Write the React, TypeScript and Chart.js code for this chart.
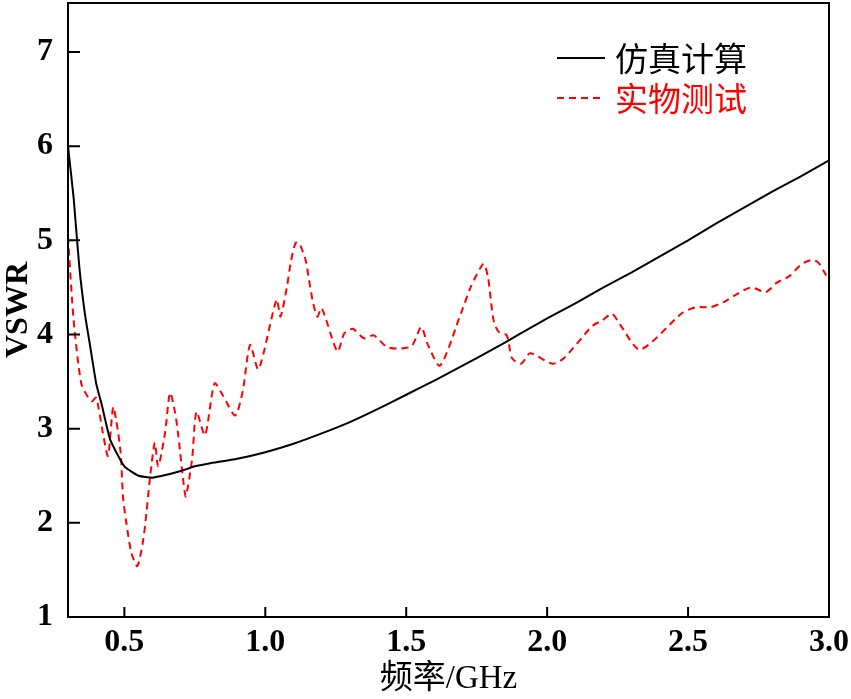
import React, { useEffect, useRef } from "react";
import { Chart, registerables } from "chart.js";

Chart.register(...registerables);

// Simulated VSWR (仿真计算)
const simFreq = [0.3, 0.32, 0.34, 0.36, 0.38, 0.4, 0.42, 0.45, 0.5, 0.55, 0.6, 0.65, 0.7, 0.75, 0.8, 0.9, 1.0, 1.1, 1.2, 1.3, 1.4, 1.5, 1.6, 1.7, 1.8, 1.9, 2.0, 2.1, 2.2, 2.3, 2.4, 2.5, 2.6, 2.7, 2.8, 2.9, 3.0];
const simVswr = [6.0, 5.45, 4.72, 4.22, 3.85, 3.48, 3.25, 2.88, 2.6, 2.5, 2.48, 2.51, 2.55, 2.6, 2.63, 2.68, 2.75, 2.84, 2.95, 3.07, 3.21, 3.36, 3.51, 3.67, 3.83, 4.0, 4.17, 4.33, 4.5, 4.66, 4.83, 5.0, 5.18, 5.35, 5.52, 5.68, 5.85];

// Measured VSWR (实物测试)
const measFreq = [0.3, 0.32, 0.347, 0.37, 0.385, 0.4, 0.424, 0.442, 0.46, 0.471, 0.487, 0.495, 0.507, 0.525, 0.546, 0.567, 0.578, 0.59, 0.608, 0.62, 0.644, 0.662, 0.68, 0.692, 0.71, 0.718, 0.74, 0.756, 0.786, 0.82, 0.85, 0.893, 0.92, 0.946, 0.976, 1.04, 1.054, 1.077, 1.09, 1.107, 1.12, 1.143, 1.155, 1.17, 1.185, 1.2, 1.256, 1.28, 1.31, 1.35, 1.385, 1.43, 1.47, 1.52, 1.553, 1.577, 1.62, 1.696, 1.73, 1.774, 1.79, 1.8, 1.81, 1.827, 1.857, 1.875, 1.908, 1.94, 2.018, 2.06, 2.16, 2.196, 2.23, 2.26, 2.33, 2.48, 2.53, 2.58, 2.63, 2.68, 2.725, 2.775, 2.815, 2.86, 2.9, 2.935, 2.96, 2.98, 3.0];
const measVswr = [5.04, 4.15, 3.48, 3.34, 3.29, 3.33, 2.95, 2.71, 3.23, 3.09, 2.74, 2.28, 2.0, 1.68, 1.54, 1.82, 2.1, 2.45, 2.85, 2.6, 2.95, 3.38, 3.17, 2.91, 2.42, 2.28, 2.67, 3.18, 2.93, 3.48, 3.35, 3.14, 3.4, 3.89, 3.63, 4.37, 4.19, 4.51, 4.76, 4.97, 4.97, 4.79, 4.58, 4.33, 4.19, 4.28, 3.82, 4.01, 4.06, 3.96, 3.99, 3.87, 3.85, 3.88, 4.08, 3.89, 3.67, 4.24, 4.51, 4.75, 4.61, 4.37, 4.15, 4.03, 3.99, 3.75, 3.69, 3.8, 3.69, 3.75, 4.09, 4.15, 4.22, 4.1, 3.84, 4.23, 4.29, 4.29, 4.35, 4.44, 4.5, 4.45, 4.55, 4.62, 4.74, 4.79, 4.77, 4.68, 4.57];

const xTicks = [0.5, 1.0, 1.5, 2.0, 2.5, 3.0];
const yTicks = [1, 2, 3, 4, 5, 6, 7];

const seriesLabels = ["仿真计算", "实物测试"];
const xTitle = "频率/GHz";
const yTitle = "VSWR";

const SERIF = "'Liberation Serif', 'Times New Roman', 'Noto Sans CJK SC', serif";
const CJK = "'Noto Sans CJK SC', sans-serif";

const noPad = (s: any) => {
  s.paddingTop = 0;
  s.paddingBottom = 0;
  s.paddingLeft = 0;
  s.paddingRight = 0;
};

export default function App() {
  const ref = useRef<HTMLCanvasElement | null>(null);

  useEffect(() => {
    if (!ref.current) return;

    const framePlugin = {
      id: "frameTicksLegend",
      afterDraw(chart: any) {
        const { ctx, chartArea, scales } = chart;
        const { left, right, top, bottom } = chartArea;
        ctx.save();
        ctx.strokeStyle = "#000";
        ctx.lineWidth = 2;
        ctx.strokeRect(left, top, right - left, bottom - top);
        ctx.beginPath();
        xTicks.forEach((v) => {
          const px = scales.x.getPixelForValue(v);
          ctx.moveTo(px, bottom);
          ctx.lineTo(px, bottom - 10);
        });
        yTicks.forEach((v) => {
          const py = scales.y.getPixelForValue(v);
          ctx.moveTo(left, py);
          ctx.lineTo(left + 12, py);
        });
        ctx.stroke();

        // legend
        const lx0 = 557, lx1 = 605, tx = 615;
        const rows = [
          { y: 58, color: "#000", dash: [] as number[], text: seriesLabels[0] },
          { y: 98, color: "#ff0000", dash: [7, 5], text: seriesLabels[1] },
        ];
        rows.forEach((r) => {
          ctx.beginPath();
          ctx.setLineDash(r.dash);
          ctx.strokeStyle = r.color;
          ctx.lineWidth = 2;
          ctx.moveTo(lx0, r.y);
          ctx.lineTo(lx1, r.y);
          ctx.stroke();
          ctx.setLineDash([]);
          ctx.fillStyle = r.color;
          ctx.font = `33px ${CJK}`;
          ctx.textAlign = "left";
          ctx.textBaseline = "middle";
          ctx.fillText(r.text, tx, r.y);
        });
        ctx.restore();
      },
    };

    const chart = new Chart(ref.current, {
      type: "line",
      data: {
        datasets: [
          {
            label: seriesLabels[0],
            data: simFreq.map((x, i) => ({ x, y: simVswr[i] })),
            borderColor: "#000",
            borderWidth: 2,
            pointRadius: 0,
            tension: 0.15,
            fill: false,
          },
          {
            label: seriesLabels[1],
            data: measFreq.map((x, i) => ({ x, y: measVswr[i] })),
            borderColor: "#ff0000",
            borderWidth: 2,
            borderDash: [7, 5],
            pointRadius: 0,
            tension: 0.25,
            fill: false,
          },
        ],
      },
      options: {
        responsive: false,
        animation: false,
        layout: { padding: { left: 0, right: 22, top: 3, bottom: 0 } },
        plugins: {
          legend: { display: false },
          tooltip: { enabled: false },
        },
        scales: {
          x: {
            type: "linear",
            min: 0.3,
            max: 3.0,
            afterBuildTicks: (s: any) => {
              s.ticks = xTicks.map((v) => ({ value: v }));
            },
            afterFit: (s: any) => {
              s.height = 82;
              noPad(s);
            },
            grid: { display: false, tickLength: 0 },
            border: { display: false },
            ticks: {
              color: "#000",
              padding: 7,
              font: { family: SERIF, size: 32, weight: "bold" },
              maxRotation: 0,
              autoSkip: false,
              callback: (v: any) => Number(v).toFixed(1),
            },
            title: {
              display: true,
              text: xTitle,
              color: "#000",
              font: { family: SERIF, size: 33, weight: "normal" },
              padding: { top: 0, bottom: 0 },
            },
          },
          y: {
            type: "linear",
            min: 1,
            max: 7.52,
            afterBuildTicks: (s: any) => {
              s.ticks = yTicks.map((v) => ({ value: v }));
            },
            afterFit: (s: any) => {
              s.width = 68;
              noPad(s);
            },
            grid: { display: false, tickLength: 0 },
            border: { display: false },
            ticks: {
              color: "#000",
              padding: 15,
              font: { family: SERIF, size: 32, weight: "bold" },
              autoSkip: false,
              callback: (v: any) => String(v),
            },
            title: {
              display: true,
              text: yTitle,
              color: "#000",
              font: { family: SERIF, size: 32, weight: "bold" },
              padding: { top: 0, bottom: 0 },
            },
          },
        },
      },
      plugins: [framePlugin],
    } as any);

    return () => chart.destroy();
  }, []);

  return (
    <div style={{ position: "fixed", left: 0, top: 0, width: 851, height: 699, background: "#fff" }}>
      <canvas ref={ref} width={851} height={699} style={{ width: 851, height: 699, display: "block" }} />
    </div>
  );
}
